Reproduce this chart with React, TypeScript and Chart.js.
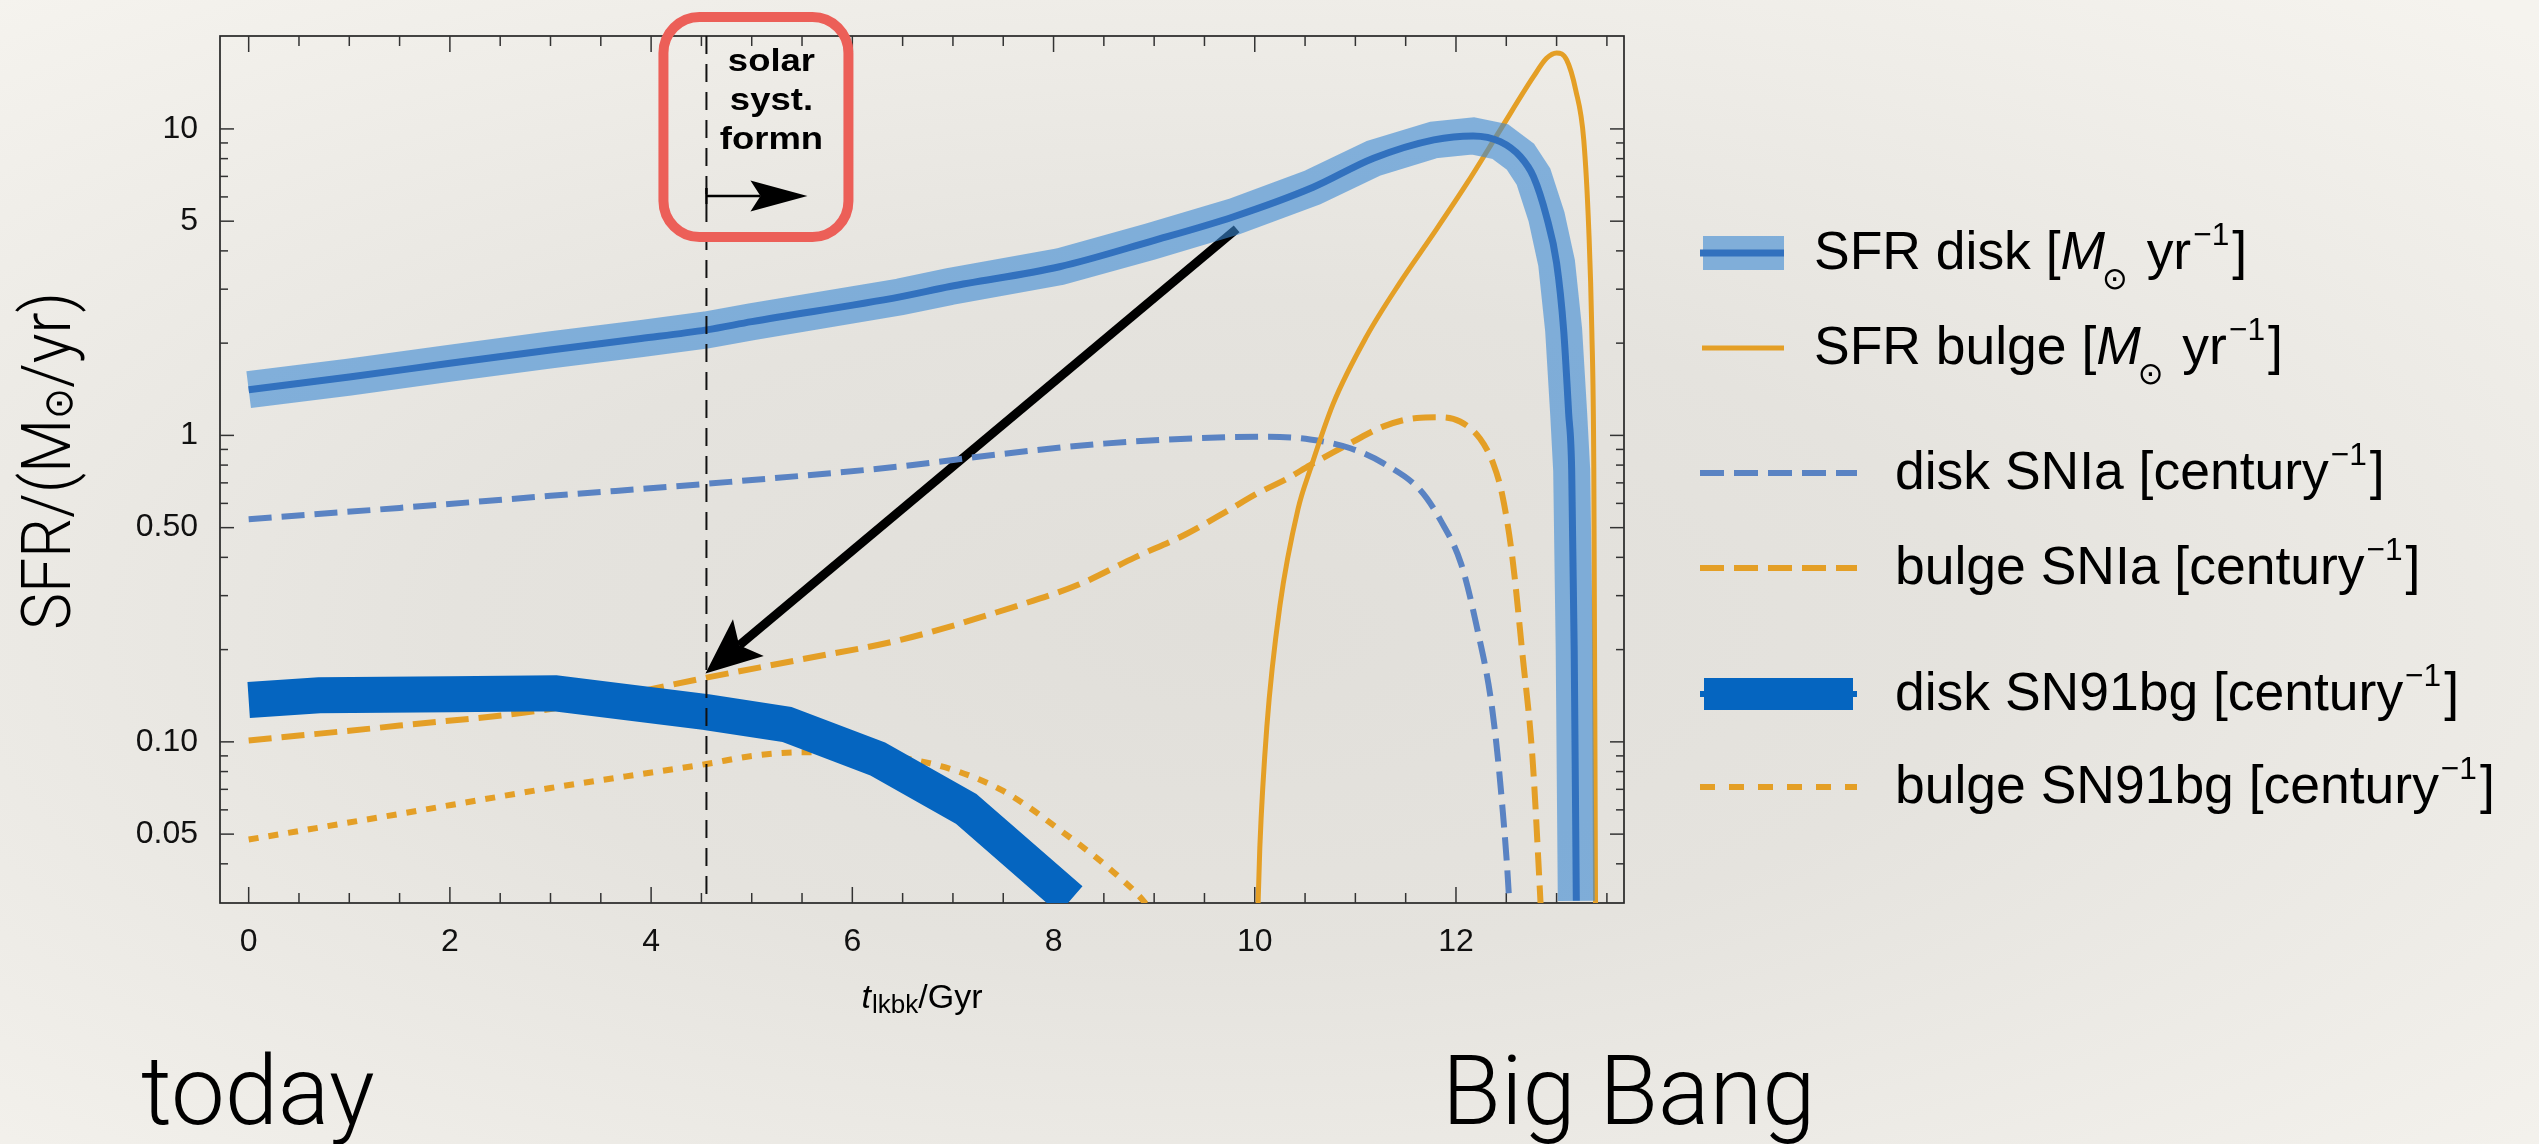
import React, { useEffect, useRef } from 'react';
import { Chart, registerables } from 'chart.js';

Chart.register(...registerables);

const W = 2539;
const H = 1144;

// ---------- axes ----------
const X_MIN = -0.285;
const X_MAX = 13.67;
const Y_MIN = 0.0298;
const Y_MAX = 20.1;

const xTickValues = [0, 2, 4, 6, 8, 10, 12];
const xTickLabels = ['0', '2', '4', '6', '8', '10', '12'];
const xMinorTicks = [0.5, 1, 1.5, 2.5, 3, 3.5, 4.5, 5, 5.5, 6.5, 7, 7.5, 8.5, 9, 9.5, 10.5, 11, 11.5, 12.5, 13, 13.5];
const yTickValues = [0.05, 0.1, 0.5, 1, 5, 10];
const yTickLabels = ['0.05', '0.10', '0.50', '1', '5', '10'];
const yMinorTicks = [0.03, 0.04, 0.06, 0.07, 0.08, 0.09, 0.2, 0.3, 0.4, 0.6, 0.7, 0.8, 0.9, 2, 3, 4, 6, 7, 8, 9];

// ---------- series (t_lkbk in Gyr, rates) ----------
const sfrDiskT = [0, 1, 2, 3, 3.9, 4.55, 5, 6.475, 6.97, 8.06, 8.96, 9.79, 10.58, 11.18, 11.78, 12.17, 12.44, 12.64, 12.77, 12.9, 13.0, 13.07, 13.12, 13.15, 13.175, 13.196];
const sfrDiskV = [1.41, 1.55, 1.72, 1.9, 2.07, 2.21, 2.35, 2.83, 3.06, 3.55, 4.29, 5.17, 6.45, 8.02, 9.21, 9.49, 9.09, 8.12, 6.99, 5.17, 3.65, 2.21, 1.18, 0.77, 0.2, 0.0303];

const sfrBulgeT = [9.99, 10.05, 10.12, 10.25, 10.43, 10.55, 10.78, 11.11, 11.44, 11.78, 12.11, 12.44, 12.77, 12.9, 13.0, 13.1, 13.19, 13.27, 13.32, 13.35, 13.37, 13.387, 13.395];
const sfrBulgeV = [0.01, 0.045, 0.112, 0.278, 0.575, 0.772, 1.27, 2.1, 3.14, 4.57, 6.65, 9.93, 14.8, 17.0, 17.7, 16.8, 13.4, 9.21, 4.68, 2.21, 0.77, 0.03, 0.01];

const diskIaT = [0, 1.5, 3, 4.55, 6.475, 7.49, 8.5, 9.46, 10.12, 10.55, 10.95, 11.28, 11.65, 11.85, 12.05, 12.2, 12.36, 12.46, 12.53, 12.58];
const diskIaV = [0.533, 0.58, 0.635, 0.695, 0.792, 0.87, 0.94, 0.98, 0.99, 0.97, 0.908, 0.81, 0.66, 0.526, 0.382, 0.243, 0.128, 0.062, 0.0297, 0.012];

const bulgeIaT = [0, 1.5, 3, 4.55, 5.5, 6.5, 7.64, 8.25, 8.81, 9.31, 9.72, 10.02, 10.33, 10.55, 10.95, 11.28, 11.61, 11.84, 12.04, 12.24, 12.37, 12.46, 12.56, 12.66, 12.76, 12.84, 12.9];
const bulgeIaV = [0.101, 0.113, 0.128, 0.162, 0.186, 0.216, 0.278, 0.326, 0.4, 0.475, 0.565, 0.645, 0.725, 0.8, 0.943, 1.07, 1.14, 1.146, 1.11, 0.975, 0.81, 0.64, 0.4, 0.194, 0.089, 0.03, 0.012];

const disk91T = [0, 0.7, 2, 3.05, 4.55, 5.35, 6.25, 7.13, 8.17];
const disk91V = [0.137, 0.142, 0.143, 0.144, 0.125, 0.114, 0.088, 0.0605, 0.0305];

const bulge91T = [0, 1.5, 3, 4.55, 5.0, 5.5, 6.2, 6.88, 7.49, 8.14, 8.6, 8.91, 9.1];
const bulge91V = [0.048, 0.0582, 0.0707, 0.0847, 0.0899, 0.0925, 0.091, 0.0833, 0.0694, 0.0494, 0.0375, 0.0298, 0.024];

// ---------- annotations ----------
const solarT = 4.55;
const arrowStart = [9.82, 4.72];
const arrowEnd = [4.54, 0.167];
const boxLines = ['solar', 'syst.', 'formn'];
const todayLabel = 'today';
const bigBangLabel = 'Big Bang';

// ---------- colours ----------
const ORANGE = '#e49f26';
const BLUE_DASH = '#5a83c3';
const BAND = 'rgba(58,137,212,0.6)';
const BAND_LINE = '#3271be';
const SN91 = '#0565c0';

const SANS = '"Liberation Sans", Arial, sans-serif';
const LIGHT = 'Roboto, "Open Sans", sans-serif';

type Run = { text: string; font: string; dy?: number; dx?: number };

function runsWidth(ctx: CanvasRenderingContext2D, runs: Run[]) {
  let w = 0;
  for (const r of runs) {
    ctx.font = r.font;
    w += ctx.measureText(r.text).width + (r.dx || 0);
  }
  return w;
}

function drawRuns(ctx: CanvasRenderingContext2D, x: number, y: number, runs: Run[], sx = 1) {
  ctx.save();
  ctx.translate(x, y);
  ctx.scale(sx, 1);
  ctx.textAlign = 'left';
  ctx.textBaseline = 'alphabetic';
  let cx = 0;
  for (const r of runs) {
    ctx.font = r.font;
    cx += r.dx || 0;
    ctx.fillText(r.text, cx, r.dy || 0);
    cx += ctx.measureText(r.text).width;
  }
  ctx.restore();
}

function drawArrow(ctx: CanvasRenderingContext2D, x1: number, y1: number, x2: number, y2: number, lw: number, headLen: number, headHalf: number, notch: number) {
  const dx = x2 - x1;
  const dy = y2 - y1;
  const L = Math.hypot(dx, dy);
  const ux = dx / L;
  const uy = dy / L;
  const px = -uy;
  const py = ux;
  const bx = x2 - ux * headLen;
  const by = y2 - uy * headLen;
  const nx = x2 - ux * (headLen - notch);
  const ny = y2 - uy * (headLen - notch);
  ctx.lineWidth = lw;
  ctx.lineCap = 'butt';
  ctx.beginPath();
  ctx.moveTo(x1, y1);
  ctx.lineTo(nx, ny);
  ctx.stroke();
  ctx.beginPath();
  ctx.moveTo(x2, y2);
  ctx.lineTo(bx + px * headHalf, by + py * headHalf);
  ctx.lineTo(nx, ny);
  ctx.lineTo(bx - px * headHalf, by - py * headHalf);
  ctx.closePath();
  ctx.fill();
}

const supRun = (t: string): Run => ({ text: t, font: `32px ${SANS}`, dy: -24, dx: 2 });
const msunRuns = (head: string): Run[] => [
  { text: head + ' [', font: `54px ${SANS}` },
  { text: 'M', font: `italic 54px ${SANS}` },
  { text: '\u2299', font: '31px "DejaVu Sans"', dy: 20, dx: -3 },
  { text: ' yr', font: `54px ${SANS}`, dx: 4 },
  supRun('\u22121'),
  { text: ']', font: `54px ${SANS}`, dx: 3 },
];
const centRuns = (head: string): Run[] => [
  { text: head + ' [century', font: `54px ${SANS}` },
  supRun('\u22121'),
  { text: ']', font: `54px ${SANS}`, dx: 3 },
];
const legendTexts: Run[][] = [
  msunRuns('SFR disk'),
  msunRuns('SFR bulge'),
  centRuns('disk SNIa'),
  centRuns('bulge SNIa'),
  centRuns('disk SN91bg'),
  centRuns('bulge SN91bg'),
];
const legendRowY = [253, 348, 473, 568, 694, 787];

const annotPlugin = {
  id: 'annot',
  beforeDatasetsDraw(chart: any) {
    const { ctx, chartArea: a } = chart;
    const xs = chart.scales.x;
    const ys = chart.scales.y;
    ctx.save();
    // frame
    ctx.strokeStyle = '#262626';
    ctx.lineWidth = 1.7;
    ctx.strokeRect(a.left, a.top, a.right - a.left, a.bottom - a.top);
    ctx.strokeStyle = '#333';
    ctx.lineWidth = 1.5;
    const seg = (x1: number, y1: number, x2: number, y2: number) => {
      ctx.beginPath();
      ctx.moveTo(x1, y1);
      ctx.lineTo(x2, y2);
      ctx.stroke();
    };
    xTickValues.forEach((v) => {
      const p = xs.getPixelForValue(v);
      seg(p, a.bottom, p, a.bottom - 16);
      seg(p, a.top, p, a.top + 16);
    });
    xMinorTicks.forEach((v) => {
      const p = xs.getPixelForValue(v);
      if (p > a.right - 1) return;
      seg(p, a.bottom, p, a.bottom - 10);
      seg(p, a.top, p, a.top + 10);
    });
    yTickValues.forEach((v) => {
      const p = ys.getPixelForValue(v);
      seg(a.left, p, a.left + 14, p);
      seg(a.right, p, a.right - 14, p);
    });
    yMinorTicks.forEach((v) => {
      const p = ys.getPixelForValue(v);
      if (p > a.bottom - 2 || p < a.top + 2) return;
      seg(a.left, p, a.left + 8, p);
      seg(a.right, p, a.right - 8, p);
    });
    // big arrow
    ctx.fillStyle = '#000';
    ctx.strokeStyle = '#000';
    drawArrow(
      ctx,
      xs.getPixelForValue(arrowStart[0]),
      ys.getPixelForValue(arrowStart[1]),
      xs.getPixelForValue(arrowEnd[0]),
      ys.getPixelForValue(arrowEnd[1]),
      9, 56, 24, 12
    );
    ctx.restore();
  },
  afterDatasetsDraw(chart: any) {
    const { ctx, chartArea: a } = chart;
    const xs = chart.scales.x;
    const sx = xs.getPixelForValue(solarT);
    ctx.save();
    // dashed vertical line
    ctx.strokeStyle = '#111';
    ctx.lineWidth = 2;
    ctx.setLineDash([18, 10]);
    ctx.beginPath();
    ctx.moveTo(sx, a.top);
    ctx.lineTo(sx, a.bottom);
    ctx.stroke();
    ctx.setLineDash([]);
    // red rounded box
    ctx.strokeStyle = '#ec5f58';
    ctx.lineWidth = 10;
    ctx.beginPath();
    (ctx as any).roundRect(sx - 43, 17, 185, 220, 36);
    ctx.stroke();
    // box text
    ctx.fillStyle = '#000';
    const baselines = [70.7, 110, 149.3];
    boxLines.forEach((t, i) => {
      const runs: Run[] = [{ text: t, font: `bold 32px ${SANS}` }];
      const w = runsWidth(ctx, runs) * 1.14;
      drawRuns(ctx, sx + 65 - w / 2, baselines[i], runs, 1.14);
    });
    // small arrow
    ctx.strokeStyle = '#000';
    ctx.lineWidth = 2.5;
    ctx.beginPath();
    ctx.moveTo(sx, 188);
    ctx.lineTo(sx, 204);
    ctx.stroke();
    drawArrow(ctx, sx, 196, sx + 101, 196, 2.5, 57, 15.5, 10);
    ctx.restore();
  },
  afterDraw(chart: any) {
    const { ctx, chartArea: a } = chart;
    ctx.save();
    ctx.fillStyle = '#000';
    // y-axis title (rotated)
    const yRuns: Run[] = [
      { text: 'SFR/(M', font: `300 68px ${LIGHT}` },
      { text: '\u2299', font: '40px "DejaVu Sans"', dy: 2 },
      { text: '/yr)', font: `300 68px ${LIGHT}` },
    ];
    const yw = runsWidth(ctx, yRuns);
    const ysx = 338 / yw;
    ctx.save();
    ctx.translate(70, 461);
    ctx.rotate(-Math.PI / 2);
    drawRuns(ctx, -169, 0, yRuns, ysx);
    ctx.restore();
    // x-axis title
    const xRuns: Run[] = [
      { text: 't', font: `italic 34px ${SANS}` },
      { text: 'lkbk', font: `26px ${SANS}`, dy: 5, dx: 1 },
      { text: '/Gyr', font: `34px ${SANS}` },
    ];
    const xw = runsWidth(ctx, xRuns);
    drawRuns(ctx, (a.left + a.right) / 2 - xw / 2, 1008, xRuns);
    // today / Big Bang
    drawRuns(ctx, 141, 1124, [{ text: todayLabel, font: `300 96px ${LIGHT}` }]);
    drawRuns(ctx, 1442, 1124, [{ text: bigBangLabel, font: `300 96px ${LIGHT}` }]);
    // legend symbols
    const seg = (x1: number, x2: number, y: number, color: string, lw: number, dash: number[]) => {
      ctx.strokeStyle = color;
      ctx.lineWidth = lw;
      ctx.setLineDash(dash);
      ctx.beginPath();
      ctx.moveTo(x1, y);
      ctx.lineTo(x2, y);
      ctx.stroke();
      ctx.setLineDash([]);
    };
    const r = legendRowY;
    ctx.fillStyle = BAND;
    ctx.fillRect(1703, r[0] - 17, 81, 34);
    seg(1700, 1784, r[0], BAND_LINE, 7, []);
    seg(1702, 1784, r[1], ORANGE, 5, []);
    seg(1700, 1857, r[2], BLUE_DASH, 6, [24, 10]);
    seg(1700, 1857, r[3], ORANGE, 6, [24, 10]);
    ctx.fillStyle = SN91;
    ctx.fillRect(1704, r[4] - 16, 149, 32);
    seg(1700, 1857, r[4], SN91, 6, []);
    seg(1700, 1857, r[5], ORANGE, 6, [15, 14]);
    // legend text
    ctx.fillStyle = '#000';
    legendTexts.forEach((runs, i) => {
      const x0 = i < 2 ? 1814 : 1895;
      drawRuns(ctx, x0, r[i] + 16, runs, 0.99);
    });
    ctx.restore();
  },
};

const mk = (T: number[], V: number[]) => T.map((t, i) => ({ x: t, y: V[i] }));

export default function App() {
  const ref = useRef<HTMLCanvasElement>(null);
  useEffect(() => {
    const canvas = ref.current;
    if (!canvas) return;
    const chart = new Chart(canvas, {
      type: 'line',
      data: {
        datasets: [
          { label: 'SFR disk', data: mk(sfrDiskT, sfrDiskV), borderColor: BAND_LINE, borderWidth: 7, cubicInterpolationMode: 'monotone', order: 0 },
          { label: 'SFR disk band', data: mk(sfrDiskT, sfrDiskV), borderColor: BAND, borderWidth: 37, tension: 0, borderJoinStyle: 'miter', order: 1 },
          { label: 'disk SN91bg', data: mk(disk91T, disk91V), borderColor: SN91, borderWidth: 36, tension: 0, order: 2 },
          { label: 'SFR bulge', data: mk(sfrBulgeT, sfrBulgeV), borderColor: ORANGE, borderWidth: 5, cubicInterpolationMode: 'monotone', order: 3 },
          { label: 'disk SNIa', data: mk(diskIaT, diskIaV), borderColor: BLUE_DASH, borderWidth: 6, borderDash: [23, 10], cubicInterpolationMode: 'monotone', order: 4 },
          { label: 'bulge SNIa', data: mk(bulgeIaT, bulgeIaV), borderColor: ORANGE, borderWidth: 6, borderDash: [23, 10], cubicInterpolationMode: 'monotone', order: 5 },
          { label: 'bulge SN91bg', data: mk(bulge91T, bulge91V), borderColor: ORANGE, borderWidth: 6, borderDash: [10, 10], cubicInterpolationMode: 'monotone', order: 6 },
        ] as any,
      },
      options: {
        animation: false,
        responsive: false,
        maintainAspectRatio: false,
        devicePixelRatio: 1,
        events: [],
        layout: { padding: { left: 0, top: 36, right: W - 1624, bottom: H - 903 - 60 } },
        elements: { point: { radius: 0 }, line: { fill: false } },
        plugins: { legend: { display: false }, tooltip: { enabled: false }, title: { display: false } },
        scales: {
          x: {
            type: 'linear',
            min: X_MIN,
            max: X_MAX,
            grid: { display: false },
            border: { display: false },
            ticks: {
              autoSkip: false,
              maxRotation: 0,
              padding: 12,
              color: '#111',
              font: { family: SANS, size: 32 },
              callback: (_v: any, i: number) => xTickLabels[i],
            },
            afterBuildTicks: (s: any) => {
              s.ticks = xTickValues.map((v) => ({ value: v }));
            },
            afterFit: (s: any) => {
              s.height = 60;
            },
          },
          y: {
            type: 'logarithmic',
            min: Y_MIN,
            max: Y_MAX,
            grid: { display: false },
            border: { display: false },
            ticks: {
              autoSkip: false,
              padding: 14,
              color: '#111',
              font: { family: SANS, size: 32 },
              callback: (_v: any, i: number) => yTickLabels[i],
            },
            afterBuildTicks: (s: any) => {
              s.ticks = yTickValues.map((v) => ({ value: v }));
            },
            afterFit: (s: any) => {
              s.width = 220;
            },
          },
        },
      } as any,
      plugins: [annotPlugin],
    });
    return () => chart.destroy();
  }, []);

  return (
    <div
      style={{
        position: 'absolute',
        left: 0,
        top: 0,
        width: W,
        height: H,
        overflow: 'hidden',
        background: 'radial-gradient(ellipse 75% 72% at 48% 55%, #e1dfda 0%, #e5e3de 40%, #f5f3ee 100%)',
      }}
    >
      <canvas ref={ref} width={W} height={H} style={{ display: 'block', width: W, height: H }} />
    </div>
  );
}
